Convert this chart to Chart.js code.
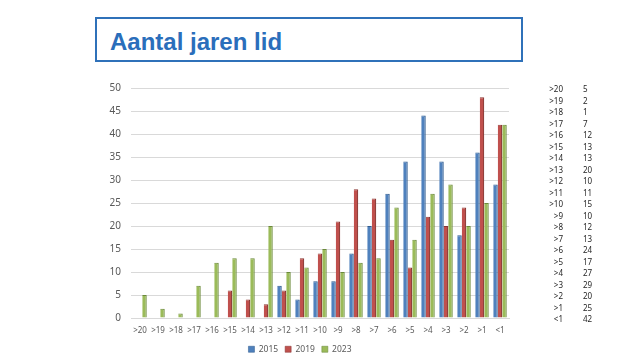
<!DOCTYPE html>
<html><head><meta charset="utf-8">
<script src="https://cdn.jsdelivr.net/npm/chart.js@4"></script>
<style>
body{margin:0;width:640px;height:360px;background:#fff;position:relative;overflow:hidden;font-family:"Liberation Sans",Arial,sans-serif}
#wrap{position:absolute;left:0;top:0;width:640px;height:360px}
#title{position:absolute;left:95px;top:17px;width:424px;height:41px;border:2px solid #2f71b9;box-sizing:content-box}
#title span{position:absolute;left:13px;top:9px;font-weight:bold;font-size:24px;color:#2a6ebb;white-space:nowrap}
#tbl{position:absolute;left:535px;top:83px;font-family:"Noto Sans","Liberation Sans",sans-serif;font-size:8px;color:#262626}
.row{height:11.5px;line-height:11.5px;position:relative;width:80px}
.row .k{position:absolute;left:0;width:28px;text-align:right}
.row .v{position:absolute;left:48px}
</style></head>
<body>
<div id="title"><span>Aantal jaren lid</span></div>
<div id="wrap"><canvas id="c" width="640" height="360"></canvas></div>
<div id="tbl"></div>
<script>
const categories = [">20",">19",">18",">17",">16",">15",">14",">13",">12",">11",">10",">9",">8",">7",">6",">5",">4",">3",">2",">1","<1"];
const s2015 = [0,0,0,0,0,0,0,0,7,4,8,8,14,20,27,34,44,34,18,36,29];
const s2019 = [0,0,0,0,0,6,4,3,6,13,14,21,28,26,17,11,22,20,24,48,42];
const s2023 = [5,2,1,7,12,13,13,20,10,11,15,10,12,13,24,17,27,29,20,25,42];
const seriesNames = ["2015","2019","2023"];
const yTicks = [0,5,10,15,20,25,30,35,40,45,50];

// side table (2023 values)
const tbl = document.getElementById('tbl');
categories.forEach((c,i)=>{
  const r = document.createElement('div'); r.className='row';
  const k = document.createElement('span'); k.className='k'; k.textContent=c;
  const v = document.createElement('span'); v.className='v'; v.textContent=s2023[i];
  r.appendChild(k); r.appendChild(v); tbl.appendChild(r);
});

const fill = ['#4f81bd','#c0504d','#9bbb59'];
const edge = ['#2f5b8f','#8a3633','#6b8a3a'];
const vals = [s2015,s2019,s2023];
const ds = seriesNames.map((n,i)=>({
  label:n, data:vals[i], backgroundColor:fill[i], borderColor:edge[i],
  borderWidth:{top:1,right:1.2,bottom:0,left:0}, borderSkipped:'start',
  categoryPercentage:0.75, barPercentage:1.0
}));

new Chart(document.getElementById('c'),{
  type:'bar',
  data:{labels:categories, datasets:ds},
  options:{
    responsive:false, animation:false,
    layout:{padding:{left:91,right:131,top:88,bottom:-3.5}},
    plugins:{
      legend:{position:'bottom',
        labels:{boxWidth:6,boxHeight:6,padding:7,color:'#595959',
          font:{family:'"Noto Sans","Liberation Sans",sans-serif',size:8.5}}},
      tooltip:{enabled:false}
    },
    scales:{
      x:{
        grid:{display:false,drawTicks:false},
        border:{color:'#d9d9d9'},
        ticks:{color:'#595959',padding:8,maxRotation:0,autoSkip:false,
          font:{family:'"Noto Sans","Liberation Sans",sans-serif',size:8}},
        afterFit:s=>{s.height=20;}
      },
      y:{
        min:0,max:50,
        afterBuildTicks:s=>{s.ticks=yTicks.map(v=>({value:v}));},
        grid:{color:'#d9d9d9',drawTicks:false},
        border:{display:false},
        ticks:{color:'#595959',padding:10,
          font:{family:'"Noto Sans","Liberation Sans",sans-serif',size:10}},
        afterFit:s=>{s.width=40;}
      }
    }
  }
});
</script>
</body></html>
